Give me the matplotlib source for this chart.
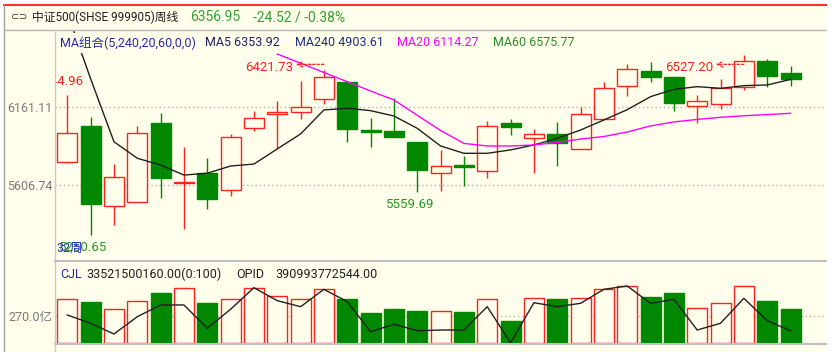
import numpy as np
import matplotlib.pyplot as plt
from matplotlib.patches import Rectangle
from matplotlib.lines import Line2D

plt.rcParams['font.family'] = ['Roboto', 'Noto Sans CJK SC']

# 中证500 weekly bars
opens = [5767, 6027, 5458, 5489, 6048, 5622, 5689, 5571, 6008, 6107, 6126, 6216,
         6334, 5996, 5989, 5913, 5694, 5751, 5706, 6048, 5942, 5965, 5859, 6072,
         6308, 6416, 6374, 6166, 6180, 6298, 6487, 6400]
highs = [6244.96, 6090, 5753, 6027, 6114, 5873, 5795, 5965, 6131, 6201, 6345, 6421.73,
         6340, 6079, 6221, 5913, 5854, 5812, 6060, 6072, 6001, 6050, 6161, 6334,
         6461, 6475, 6374, 6244, 6355, 6527.20, 6496, 6449]
lows = [5760, 5250.65, 5323, 5489, 5517, 5293, 5434, 5529, 5991, 5866, 6072, 6180,
        5909, 5878, 5949, 5559.69, 5565, 5602, 5654, 5961, 5694, 5744, 5859, 6072,
        6237, 6338, 6133, 6043, 6145, 6279, 6298, 6308]
closes = [5972, 5470, 5666, 5972, 5654, 5629, 5508, 5944, 6079, 6121, 6157, 6374,
          6003, 5984, 5949, 5713, 5741, 5737, 6024, 6015, 5965, 5902, 6107, 6291,
          6426, 6374, 6185, 6201, 6296, 6487, 6381.47, 6356.95]
ma5 = [6824, 6359, 5913, 5796, 5748, 5677, 5690, 5741, 5755, 5862, 5968, 6138,
       6150, 6133, 6095, 6008, 5883, 5831, 5831, 5855, 5890, 5937, 5996, 6067,
       6140, 6232, 6284, 6303, 6291, 6310, 6315, 6353.92]
ma20 = [np.nan] * 9 + [6534, 6469, 6403, 6338, 6272, 6209, 6100, 5993, 5901, 5883,
                       5883, 5890, 5908, 5932, 5950, 5982, 6025, 6053, 6071, 6086,
                       6097, 6105, 6114.27]
# volume in 亿
vol = [430, 407, 333, 417, 489, 544, 391, 430, 544, 463, 433, 531, 433, 293, 333, 319,
       319, 303, 430, 221, 446, 430, 446, 531, 560, 450, 489, 348, 391, 560, 417, 335.2]
vol_line = [277, 196, 91, 260, 375, 375, 147, 333, 544, 417, 358, 528, 407, 113, 186, 123,
            130, 130, 358, 5, 397, 358, 391, 528, 560, 391, 430, 130, 196, 440, 221, 123]
price_ticks = [5606.74, 6161.11]
vol_ticks = [270.0]

BG = '#FFFFEC'
RED = '#FF2020'
GREEN = '#008800'
FS = 9
W, H = 836, 352

fig = plt.figure(figsize=(W / 100, H / 100), dpi=100, facecolor='white')


def fr(x0, y0, x1, y1):
    # pixel box -> figure fraction rect
    return [x0 / W, 1 - y1 / H, (x1 - x0) / W, (y1 - y0) / H]


def fline(x0, y0, x1, y1, **kw):
    fig.add_artist(Line2D([x0 / W, x1 / W], [1 - y0 / H, 1 - y1 / H],
                          transform=fig.transFigure, **kw))


fig.add_artist(Rectangle((4 / W, 0), 822 / W, 1 - 5 / H, transform=fig.transFigure,
                         facecolor=BG, edgecolor='none', zorder=-5))
fline(4, 5, 826, 5, color='#FF3030', lw=1.5)
fline(4, 5, 4, 352, color='#A0A0A0', lw=1)
fline(4, 30, 826, 30, color='#B8B8B8', lw=1)
fline(55, 30, 55, 352, color='#C8C8C8', lw=1)
fline(55, 261, 826, 261, color='#C0C0C0', lw=1.5)
fline(55, 344, 826, 344, color='#C0C0C0', lw=1.5)

n = len(opens)
x = np.arange(n)
bw = 0.857
up = [c >= o for o, c in zip(opens, closes)]

# ---- price panel
ax = fig.add_axes(fr(55, 30, 826, 260))
ax.patch.set_alpha(0)
ax.set_xlim(-0.527, 32.52)
ax.set_ylim(5075.5, 6704.1)
for s in ax.spines.values():
    s.set_visible(False)
ax.set_xticks([])
ax.set_yticks(price_ticks)
ax.set_yticklabels([f'{t:.2f}' for t in price_ticks])
ax.tick_params(axis='y', length=0, pad=2, labelsize=FS, labelcolor='#7A7A7A')
for t in price_ticks:
    ax.axhline(t, color='#B0B0B0', lw=1, ls=(0, (1, 2)), zorder=0)

for i in range(n):
    col = RED if up[i] else GREEN
    ax.vlines(x[i], lows[i], highs[i], color=col, lw=1, zorder=1)
    lo, hi = min(opens[i], closes[i]), max(opens[i], closes[i])
    h = max(hi - lo, 8)
    ax.add_patch(Rectangle((x[i] - bw / 2, lo), bw, h, facecolor=BG if up[i] else GREEN,
                           edgecolor=col, lw=1, zorder=2))

ax.plot(x, ma5, color='#202020', lw=1, zorder=3)
ax.plot(x, ma20, color='#FF00FF', lw=1, zorder=3)

# high / low marks
ax.text(0.67, 6336, f'{highs[0]:.2f}', color=RED, ha='right', va='center', fontsize=FS + 0.5,
        clip_on=True)
for i in [11, 29]:
    ax.annotate('', xy=(i - 1.2, 6461), xytext=(i, 6461),
                arrowprops=dict(arrowstyle='->', color=RED, lw=0.9, ls=(0, (2, 1.5)),
                                shrinkA=0, shrinkB=0))
    ax.text(i - 1.3, 6442, f'{highs[i]:.2f}', color=RED, ha='right', va='center', fontsize=FS + 0.5)
ax.text(14.7, 5472, f'{lows[15]:.2f}', color='#229922', ha='center', va='center', fontsize=FS + 0.5)
ax.text(1.7, 5161, f'{lows[1]:.2f}', color='#229922', ha='right', va='center', fontsize=FS + 0.5)
ax.text(-0.45, 5161, '32周', color='#3030C0', ha='left', va='center', fontsize=FS)

# ---- volume panel
axv = fig.add_axes(fr(55, 262, 826, 344))
axv.patch.set_alpha(0)
axv.set_xlim(-0.527, 32.52)
axv.set_ylim(-6.8, 795)
for s in axv.spines.values():
    s.set_visible(False)
axv.set_xticks([])
axv.set_yticks(vol_ticks)
axv.set_yticklabels([f'{t:.1f}亿' for t in vol_ticks])
axv.tick_params(axis='y', length=0, pad=2, labelsize=FS, labelcolor='#7A7A7A')
axv.axhline(vol_ticks[0], color='#B0B0B0', lw=1, ls=(0, (1, 2)), zorder=0)
axv.bar(x, vol, width=bw, color=[BG if u else GREEN for u in up],
        edgecolor=[RED if u else GREEN for u in up], lw=1, zorder=2)
axv.plot(x, vol_line, color='#202020', lw=1, zorder=3)

# ---- header texts
fig.text(11 / W, 1 - 17 / H, '⊂⊃', fontsize=7, color='#303030', va='center', family='DejaVu Sans')
fig.text(32 / W, 1 - 17 / H, '中证500(SHSE 999905)周线', fontsize=FS - 0.5, color='#202020', va='center')
fig.text(190 / W, 1 - 17 / H, '6356.95', fontsize=FS + 1, color='#33A033', va='center')
fig.text(253 / W, 1 - 17 / H, '-24.52 / -0.38%', fontsize=FS + 1, color='#33A033', va='center')

box = dict(facecolor=BG, edgecolor='none', pad=2.5)
ma_items = [(60, 'MA组合(5,240,20,60,0,0)', '#2828A8'),
            (205, 'MA5 6353.92', '#202060'),
            (295, 'MA240 4903.61', '#1F2F80'),
            (397, 'MA20 6114.27', '#FF00FF'),
            (493, 'MA60 6575.77', '#2E8B2E')]
for px, s, c in ma_items:
    fig.text(px / W, 1 - 43 / H, s, fontsize=FS, color=c, va='center', bbox=box)

fig.text(60 / W, 1 - 274 / H, 'CJL', fontsize=FS, color='#2828A8', va='center')
fig.text(86 / W, 1 - 274 / H, '33521500160.00(0:100)', fontsize=FS, color='#202020', va='center')
fig.text(236 / W, 1 - 274 / H, 'OPID', fontsize=FS, color='#202020', va='center')
fig.text(275 / W, 1 - 274 / H, '390993772544.00', fontsize=FS, color='#202020', va='center')

fig.savefig('out.png', dpi=100, facecolor='white')
